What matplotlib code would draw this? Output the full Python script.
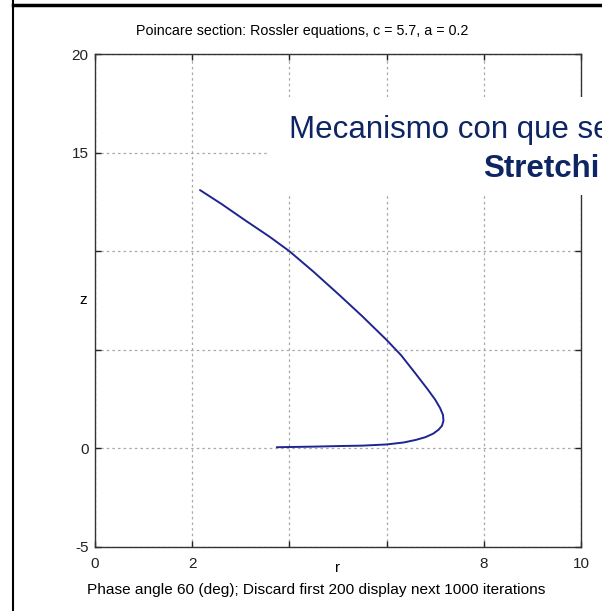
import matplotlib
matplotlib.use('Agg')
import matplotlib.pyplot as plt
from matplotlib.lines import Line2D
from matplotlib.patches import Rectangle

# points of the Poincare section
r_vals = [2.16, 2.6, 3.1, 3.6, 4.0, 4.5, 5.04, 5.5, 6.0, 6.3, 6.6, 6.85,
          7.0, 7.1, 7.16, 7.17, 7.14, 7.07, 6.96, 6.8, 6.6, 6.35, 6.0, 5.5,
          5.04, 4.5, 4.0, 3.74]
z_vals = [13.1, 12.4, 11.55, 10.72, 10.0, 8.95, 7.75, 6.7, 5.5, 4.72, 3.78, 2.98,
          2.47, 2.05, 1.7, 1.4, 1.15, 0.95, 0.75, 0.57, 0.43, 0.3, 0.2, 0.14,
          0.12, 0.09, 0.07, 0.06]

x_ticks = [0, 2, 4, 6, 8, 10]
x_labels = ['0', '2', '', '', '8', '10']
y_ticks = [-5, 0, 5, 10, 15, 20]
y_labels = ['-5', '0', '', '', '15', '20']

title = 'Poincare section: Rossler equations, c = 5.7, a = 0.2'
footer = 'Phase angle 60 (deg); Discard first 200 display next 1000 iterations'
overlay1 = 'Mecanismo con que se'
overlay2 = 'Stretchi'

plt.rcParams['font.family'] = ['Liberation Sans', 'DejaVu Sans']

W, H = 602, 611
fig = plt.figure(figsize=(W / 100, H / 100), dpi=100)
fig.patch.set_facecolor('white')

def fx(px):
    return px / W

def fy(py):
    return 1 - py / H

ax = fig.add_axes([fx(95), fy(547), fx(581) - fx(95), fy(54) - fy(547)])
ax.plot(r_vals, z_vals, color='#1f2590', lw=1.4, solid_capstyle='round')
ax.set_xlim(0, 10)
ax.set_ylim(-5, 20)
ax.set_xticks(x_ticks)
ax.set_xticklabels(x_labels)
ax.set_yticks(y_ticks)
ax.set_yticklabels(y_labels)
ax.tick_params(direction='in', length=4.5, width=1, top=True, right=True,
               labelsize=11, colors='#222222')
ax.tick_params(axis='x', pad=7)
ax.tick_params(axis='y', pad=4.5)
ax.grid(True, color='#a8a8a8', lw=0.9, linestyle=(0, (2, 2.5)))
for s in ax.spines.values():
    s.set_linewidth(1.0)
    s.set_color('#333333')

ax.text(0.5, -0.042, 'r', transform=ax.transAxes, ha='center', va='center', fontsize=11)
ax.text(-0.016, 0.5, 'z', transform=ax.transAxes, ha='right', va='center', fontsize=11)

fig.text(fx(302), fy(31), title, ha='center', va='center', fontsize=10.3)
fig.text(fx(316), fy(590), footer, ha='center', va='center', fontsize=11.1)

# white box of the slide text laid over the chart
fig.add_artist(Rectangle((fx(268), fy(195)), 1 - fx(268), fy(97) - fy(195),
                         transform=fig.transFigure, facecolor='white',
                         edgecolor='none', zorder=5))
fig.text(fx(289), fy(138), overlay1, ha='left', va='baseline', fontsize=22.5,
         color='#0d2563', zorder=6)
fig.text(fx(483), fy(177), overlay2, ha='left', va='baseline', fontsize=22.5,
         fontweight='bold', color='#0d2563', zorder=6)

# slide frame lines
fig.add_artist(Line2D([fx(13), fx(13)], [0, 1], transform=fig.transFigure,
                      color='black', lw=1.5, zorder=7))
fig.add_artist(Line2D([fx(13), 1], [fy(5), fy(5)], transform=fig.transFigure,
                      color='black', lw=2.5, zorder=7))

fig.savefig('out.png', dpi=100)
